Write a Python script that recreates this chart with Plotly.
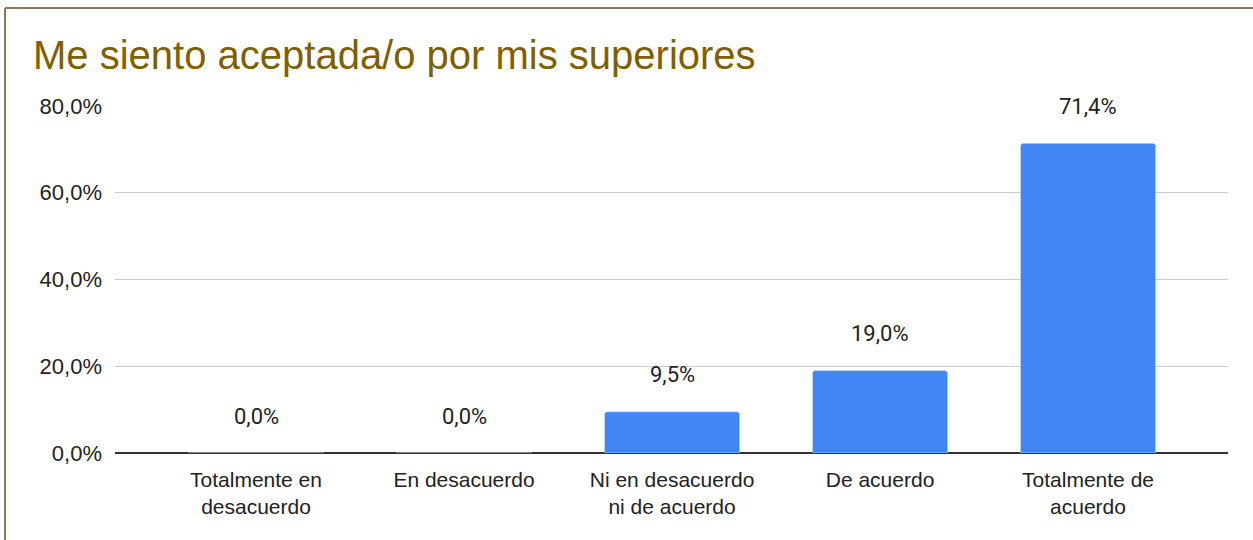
import plotly.graph_objects as go

# datos del gráfico
categorias = ["Totalmente en<br>desacuerdo", "En desacuerdo", "Ni en desacuerdo<br>ni de acuerdo",
              "De acuerdo", "Totalmente de<br>acuerdo"]
porcentajes = [0.0, 0.0, 0.095, 0.19, 0.714]
ticks_y = [0.0, 0.2, 0.4, 0.6, 0.8]

titulo = "Me siento aceptada/o por mis superiores"

fig = go.Figure()

fig.add_trace(go.Bar(
    x=list(range(len(categorias))),
    y=porcentajes,
    marker=dict(color="#4285f4", cornerradius=3),
    width=0.65,
    hoverinfo="skip",
))

# etiquetas de valor por encima de cada barra (estilo Google Sheets)
for i, v in enumerate(porcentajes):
    fig.add_annotation(
        x=i, y=v, xref="x", yref="y",
        text=f"{v * 100:.1f}%".replace(".", ","),
        showarrow=False, yshift=37, yanchor="middle",
        font=dict(family="Roboto", size=22, color="#222222"),
    )

# marco marrón del recuadro
fig.add_shape(type="line", xref="paper", yref="paper",
              x0=-0.0988, x1=-0.0988, y0=-0.3, y1=1.2824,
              line=dict(color="#8d7659", width=2))
fig.add_shape(type="line", xref="paper", yref="paper",
              x0=-0.0988, x1=1.05, y0=1.2824, y1=1.2824,
              line=dict(color="#8d7659", width=2))

fig.update_layout(
    width=1253, height=540,
    margin=dict(l=115, r=25, t=106, b=87),
    paper_bgcolor="white", plot_bgcolor="white",
    separators=",.",
    showlegend=False,
    title=dict(text=titulo, x=33 / 1253, xanchor="left", xref="container",
               y=1 - 55 / 540, yanchor="middle", yref="container",
               font=dict(family="Liberation Sans, Arial", size=40, color="#7f6000")),
    font=dict(family="Liberation Sans, Arial", size=21, color="#222222"),
)

fig.update_xaxes(
    tickmode="array", tickvals=list(range(len(categorias))), ticktext=categorias,
    range=[-0.678, 4.673], showgrid=False, zeroline=False, showline=False,
    ticks="", ticklabelstandoff=12, tickfont=dict(size=21, color="#222222"),
)
fig.update_yaxes(
    range=[0, 0.8], tickvals=ticks_y, tickformat=".1%",
    showgrid=True, gridcolor="#cccccc", gridwidth=1,
    zeroline=True, zerolinecolor="#333333", zerolinewidth=2,
    showline=False, ticks="", ticklabelstandoff=12,
    tickfont=dict(size=22, color="#222222"),
)

# quitar el margen por defecto del body para que el gráfico quede en (0, 0)
fig.write_html("out.html", config={"displayModeBar": False},
               post_script="document.body.style.margin='0';")
